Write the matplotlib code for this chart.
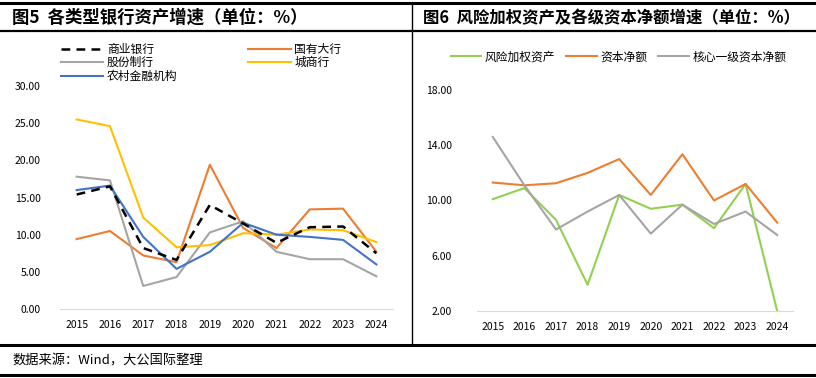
import matplotlib.pyplot as plt
from matplotlib.lines import Line2D

plt.rcParams['font.family'] = ['Noto Sans CJK SC', 'DejaVu Sans']

years = [2015, 2016, 2017, 2018, 2019, 2020, 2021, 2022, 2023, 2024]

# figure 5: bank asset growth (%)
commercial = [15.4, 16.5, 8.2, 6.6, 14.0, 11.5, 8.9, 11.0, 11.1, 7.5]
big_state = [9.4, 10.5, 7.2, 6.3, 19.4, 10.9, 8.2, 13.4, 13.5, 7.7]
joint_stock = [17.8, 17.3, 3.1, 4.3, 10.3, 11.8, 7.7, 6.7, 6.7, 4.4]
city = [25.5, 24.6, 12.3, 8.3, 8.6, 10.2, 10.0, 10.7, 10.6, 9.0]
rural = [16.0, 16.6, 9.7, 5.4, 7.7, 11.6, 10.0, 9.7, 9.3, 6.0]

# figure 6: risk-weighted assets and capital growth (%)
rwa = [10.1, 10.9, 8.6, 3.9, 10.4, 9.4, 9.7, 8.0, 11.2, 2.0]
net_capital = [11.3, 11.1, 11.25, 12.0, 13.0, 10.4, 13.35, 10.0, 11.2, 8.4]
core_tier1 = [14.6, 11.1, 7.9, 9.2, 10.4, 7.6, 9.7, 8.3, 9.2, 7.5]

W, H = 816, 378
fig = plt.figure(figsize=(W / 100, H / 100), dpi=100)


def fx(px):
    return px / W


def fy(py):
    return 1 - py / H


def hline(x0, x1, y, lw):
    fig.add_artist(Line2D([fx(x0), fx(x1)], [fy(y), fy(y)], color='black', lw=lw))


# frame lines
hline(0, 816, 3, 2.2)
hline(0, 816, 31, 1.6)
hline(0, 816, 345, 2.2)
hline(0, 816, 375, 2.2)
fig.add_artist(Line2D([fx(412), fx(412)], [fy(3), fy(345)], color='black', lw=1.0))

fig.text(fx(12), fy(18), '图5  各类型银行资产增速（单位：%）', fontsize=12.5,
         fontweight='bold', va='center', ha='left')
fig.text(fx(423), fy(18), '图6  风险加权资产及各级资本净额增速（单位：%）', fontsize=11.8,
         fontweight='bold', va='center', ha='left')
fig.text(fx(12), fy(361), '数据来源：Wind，大公国际整理', fontsize=9.5, va='center', ha='left')


def style_axis(ax):
    for s in ['top', 'right', 'left']:
        ax.spines[s].set_visible(False)
    ax.spines['bottom'].set_color('#d9d9d9')
    ax.tick_params(axis='both', length=0, labelsize=7.5)
    ax.set_xticks(years)
    ax.set_xticklabels([str(y) for y in years])
    ax.set_xlim(2014.5, 2024.5)


# left chart
ax1 = fig.add_axes([fx(60), fy(309), fx(393) - fx(60), fy(86) - fy(309)])
l_com, = ax1.plot(years, commercial, color='black', lw=1.8, ls=(0, (3.5, 2.5)))
l_big, = ax1.plot(years, big_state, color='#ED7D31', lw=1.5)
l_js, = ax1.plot(years, joint_stock, color='#A5A5A5', lw=1.5)
l_city, = ax1.plot(years, city, color='#FFC000', lw=1.5)
l_rural, = ax1.plot(years, rural, color='#4472C4', lw=1.5)
ax1.set_ylim(0, 30)
ax1.set_yticks([0, 5, 10, 15, 20, 25, 30])
ax1.set_yticklabels(['%.2f' % v for v in [0, 5, 10, 15, 20, 25, 30]])
style_axis(ax1)
ax1.tick_params(axis='y', pad=14)
ax1.tick_params(axis='x', pad=8)
# draw order so the dashed line sits on top
l_com.set_zorder(5)
fig.legend([l_com, l_js, l_rural, l_big, l_city],
           ['商业银行', '股份制行', '农村金融机构', '国有大行', '城商行'],
           ncol=2, frameon=False, fontsize=8.5, loc='upper left',
           bbox_to_anchor=(fx(56), fy(38)), handlelength=3.6, handletextpad=0.3,
           labelspacing=0.05, columnspacing=6.0, borderaxespad=0)

# right chart
ax2 = fig.add_axes([fx(477), fy(311), fx(793) - fx(477), fy(90) - fy(311)])
r_rwa, = ax2.plot(years, rwa, color='#92D050', lw=1.5)
r_cap, = ax2.plot(years, net_capital, color='#ED7D31', lw=1.5)
r_core, = ax2.plot(years, core_tier1, color='#A5A5A5', lw=1.5)
ax2.set_ylim(2, 18)
ax2.set_yticks([2, 6, 10, 14, 18])
ax2.set_yticklabels(['%.2f' % v for v in [2, 6, 10, 14, 18]])
style_axis(ax2)
ax2.tick_params(axis='y', pad=18)
ax2.tick_params(axis='x', pad=8)
fig.legend([r_rwa, r_cap, r_core], ['风险加权资产', '资本净额', '核心一级资本净额'],
           ncol=3, frameon=False, fontsize=8.5, loc='center left',
           bbox_to_anchor=(fx(446), fy(57)), handlelength=2.6, handletextpad=0.3,
           columnspacing=0.9, borderaxespad=0)

fig.savefig('out.png', dpi=100)
